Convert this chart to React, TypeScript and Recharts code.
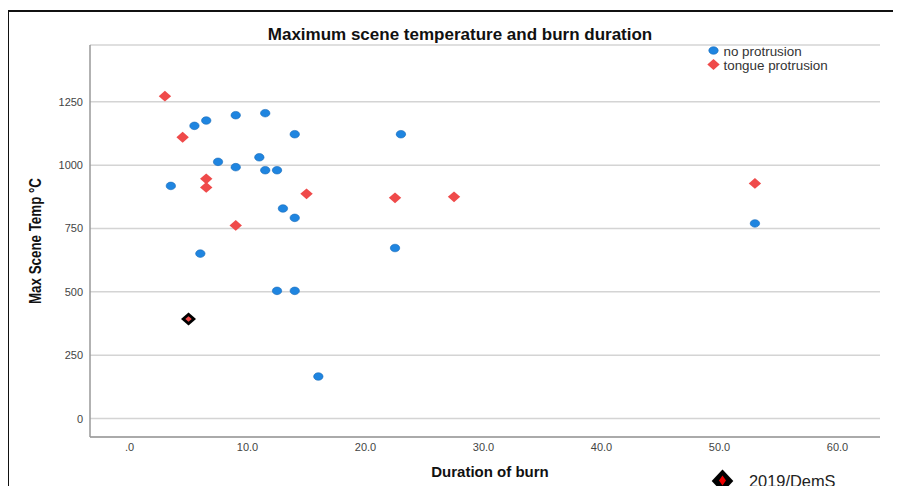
import { ScatterChart, Scatter, XAxis, YAxis, CartesianGrid } from 'recharts'

// values
const noProtrusionDuration = [3.5, 5.5, 6.5, 9.0, 11.5, 14.0, 7.5, 9.0, 11.0, 11.5, 12.5, 13.0, 14.0, 6.0, 12.5, 14.0, 16.0, 23.0, 22.5, 53.0]
const noProtrusionTemp = [918, 1155, 1176, 1197, 1205, 1122, 1013, 992, 1031, 980, 980, 829, 792, 651, 504, 504, 166, 1122, 673, 770]

const tongueDuration = [3.0, 4.5, 6.5, 6.5, 15.0, 9.0, 22.5, 27.5, 53.0]
const tongueTemp = [1272, 1110, 946, 912, 887, 762, 871, 875, 928]

const caseDuration = [5.0]
const caseTemp = [393]

const xTicks = [0, 10, 20, 30, 40, 50, 60]
const yTicks = [0, 250, 500, 750, 1000, 1250]

const toPoints = (xs: number[], ys: number[]) => xs.map((x, i) => ({ duration: x, temp: ys[i] }))

const BLUE = '#1f85e0'
const RED = '#ef4a4a'

const diamond = (cx: number, cy: number, hw: number, hh: number) =>
  `${cx},${cy - hh} ${cx + hw},${cy} ${cx},${cy + hh} ${cx - hw},${cy}`

const BlueDot = (props: any) => {
  const { cx, cy } = props
  if (cx == null || cy == null) return null
  return <ellipse cx={cx} cy={cy} rx={4.7} ry={3.8} fill={BLUE} stroke="#1669b8" strokeWidth={0.6} />
}

const RedDiamond = (props: any) => {
  const { cx, cy } = props
  if (cx == null || cy == null) return null
  return <polygon points={diamond(cx, cy, 6.2, 5.4)} fill={RED} />
}

const CaseMarker = (props: any) => {
  const { cx, cy } = props
  if (cx == null || cy == null) return null
  return (
    <g>
      <polygon points={diamond(cx, cy, 7.5, 6.6)} fill="#000" />
      <polygon points={diamond(cx, cy, 3.2, 2.8)} fill={RED} />
    </g>
  )
}

export default function App() {
  const font = "'Liberation Sans', Arial, sans-serif"
  return (
    <div style={{ position: 'relative', width: 901, height: 494, margin: -8, overflow: 'hidden', background: '#fff', fontFamily: font }}>
      <ScatterChart width={901} height={494} margin={{ top: 45, right: 21, bottom: 27, left: 0 }}>
        <CartesianGrid vertical={false} stroke="#d4d4d4" strokeWidth={1.5} />
        <XAxis
          type="number"
          dataKey="duration"
          domain={[-3.35, 63.6]}
          ticks={xTicks}
          allowDataOverflow
          tickFormatter={(v: number) => (v === 0 ? '.0' : v.toFixed(1))}
          axisLine={{ stroke: '#999', strokeWidth: 1.5 }}
          tickLine={false}
          tickSize={0}
          tickMargin={6}
          height={30}
          tick={{ fill: '#444', fontSize: 11, fontFamily: font }}
        />
        <YAxis
          type="number"
          dataKey="temp"
          domain={[-72.6, 1474]}
          ticks={yTicks}
          allowDataOverflow
          axisLine={{ stroke: '#999', strokeWidth: 1.5 }}
          tickLine={false}
          tickSize={0}
          tickMargin={7}
          width={90}
          tick={{ fill: '#444', fontSize: 11, fontFamily: font }}
        />
        <Scatter name="no protrusion" data={toPoints(noProtrusionDuration, noProtrusionTemp)} shape={BlueDot} isAnimationActive={false} />
        <Scatter name="tongue protrusion" data={toPoints(tongueDuration, tongueTemp)} shape={RedDiamond} isAnimationActive={false} />
        <Scatter name="2019/DemS" data={toPoints(caseDuration, caseTemp)} shape={CaseMarker} isAnimationActive={false} />
      </ScatterChart>

      <svg width={901} height={494} style={{ position: 'absolute', left: 0, top: 0, pointerEvents: 'none' }} fontFamily={font}>
        <text x={460} y={40} textAnchor="middle" fontSize={17} fontWeight="bold" fill="#111">
          Maximum scene temperature and burn duration
        </text>

        <text transform="translate(40.5,241) rotate(-90)" textAnchor="middle" fontSize={16.5} fontWeight="bold" fill="#111" textLength={126} lengthAdjust="spacingAndGlyphs">
          Max Scene Temp °C
        </text>
        <text x={490} y={477} textAnchor="middle" fontSize={15} fontWeight="bold" fill="#111">
          Duration of burn
        </text>

        {/* legend, top right */}
        <ellipse cx={713.5} cy={50.5} rx={4.7} ry={3.8} fill={BLUE} stroke="#1669b8" strokeWidth={0.6} />
        <text x={723.5} y={56} fontSize={13.4} fill="#333">no protrusion</text>
        <polygon points={diamond(713.5, 64.5, 6.2, 5.4)} fill={RED} />
        <text x={723.5} y={69.5} fontSize={13.4} fill="#333">tongue protrusion</text>

        {/* case legend, bottom */}
        <polygon points={diamond(722.5, 481, 10.8, 11.5)} fill="#000" />
        <polygon points={diamond(722.5, 480.5, 3.5, 5)} fill="#e00" />
        <text x={749} y={486.5} fontSize={16.4} fill="#222">2019/DemS</text>
      </svg>

      <div style={{ position: 'absolute', left: 7, top: 10, width: 1000, height: 1000, border: '2px solid #111', pointerEvents: 'none' }} />
    </div>
  )
}
